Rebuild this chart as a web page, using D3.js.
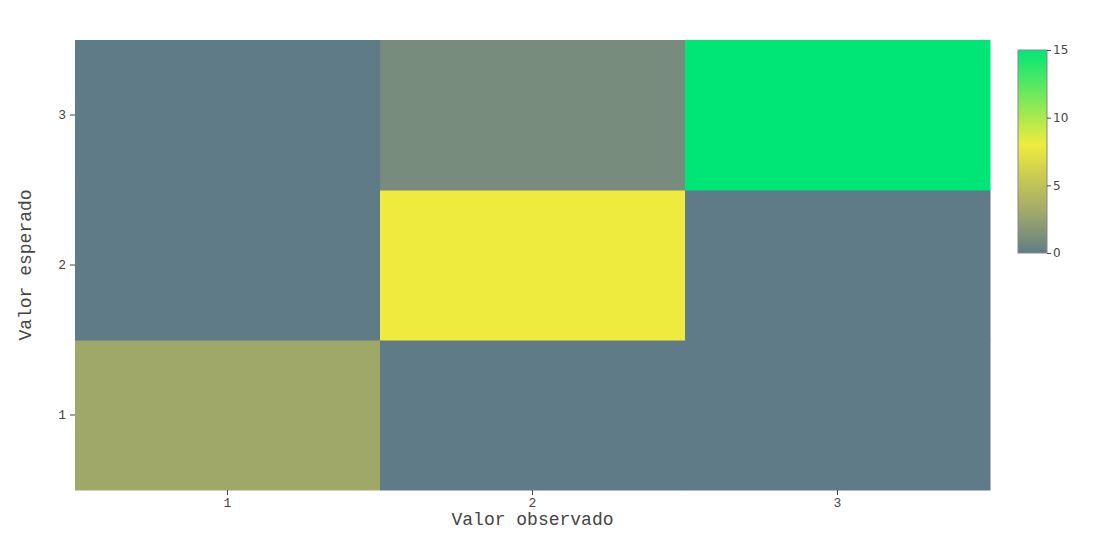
<!DOCTYPE html>
<html>
<head>
<meta charset="utf-8">
<script src="https://cdn.jsdelivr.net/npm/d3@7"></script>
<style>
  body { margin: 0; background: #fff; }
  .tick text { fill: #444; }
</style>
</head>
<body>
<script>
// confusion matrix: observado (x) vs esperado (y)
const observed = [1, 2, 3];
const expected = [1, 2, 3];
// counts[row = esperado][col = observado]
const counts = [
  [3, 0, 0],
  [0, 8, 0],
  [0, 1, 15]
];
const colorStops = [0, 1, 3, 8, 15];
const colorRange = ["#607b88", "#778c7d", "#a0a869", "#eeeb3e", "#00e676"];
const barTicks = [0, 5, 10, 15];

const mono = "'Courier New', Courier, 'Nimbus Mono PS', FreeMono, 'Liberation Mono', monospace";

init();

function init() {
  let width = 1105, height = 543,
      m = {l: 75, r: 115, t: 40, b: 53};

  let svg = d3.select("body").append("svg")
              .attr("width", width)
              .attr("height", height);

  let x = d3.scaleBand().domain(observed).range([m.l, width - m.r]).padding(0);
  let y = d3.scaleBand().domain(expected).range([height - m.b, m.t]).padding(0);
  let color = d3.scaleLinear().domain(colorStops).range(colorRange);

  let cells = [];
  counts.forEach((row, i) => {
    row.forEach((v, j) => cells.push({obs: observed[j], exp: expected[i], v: v}));
  });

  svg.append("g").selectAll("rect")
     .data(cells)
     .join("rect")
     .attr("x", d => x(d.obs))
     .attr("y", d => y(d.exp))
     .attr("width", x.bandwidth() + 0.5)
     .attr("height", y.bandwidth() + 0.5)
     .attr("fill", d => color(d.v));

  // axes
  let xAxis = svg.append("g")
     .attr("transform", `translate(0,${height - m.b})`)
     .call(d3.axisBottom(x).tickSize(5).tickPadding(3));
  let yAxis = svg.append("g")
     .attr("transform", `translate(${m.l},0)`)
     .call(d3.axisLeft(y).tickSize(5).tickPadding(4));
  [xAxis, yAxis].forEach(a => {
    a.select(".domain").remove();
    a.selectAll(".tick line").attr("stroke", "#444");
    a.selectAll(".tick text")
     .style("font-family", mono)
     .style("font-size", "13px");
  });

  svg.append("text")
     .attr("x", (m.l + width - m.r) / 2)
     .attr("y", 525)
     .attr("text-anchor", "middle")
     .style("font-family", mono)
     .style("font-size", "18px")
     .attr("fill", "#444")
     .text("Valor observado");

  svg.append("text")
     .attr("transform", `translate(31,${(m.t + height - m.b) / 2}) rotate(-90)`)
     .attr("text-anchor", "middle")
     .style("font-family", mono)
     .style("font-size", "18px")
     .attr("fill", "#444")
     .text("Valor esperado");

  // colorbar
  let cb = {x: 1018, y: 50, w: 29, h: 203};
  let cy = d3.scaleLinear().domain([0, 15]).range([cb.y + cb.h, cb.y]);

  let grad = svg.append("defs").append("linearGradient")
     .attr("id", "cbgrad")
     .attr("x1", 0).attr("y1", 1).attr("x2", 0).attr("y2", 0);
  colorStops.forEach((s, i) => {
    grad.append("stop")
        .attr("offset", s / 15)
        .attr("stop-color", colorRange[i]);
  });

  svg.append("rect")
     .attr("x", cb.x).attr("y", cb.y)
     .attr("width", cb.w).attr("height", cb.h)
     .attr("fill", "url(#cbgrad)")
     .attr("stroke", "#888")
     .attr("stroke-width", 1);

  let cAxis = svg.append("g")
     .attr("transform", `translate(${cb.x + cb.w},0)`)
     .call(d3.axisRight(cy).tickValues(barTicks).tickSize(4).tickPadding(2));
  cAxis.select(".domain").remove();
  cAxis.selectAll(".tick line").attr("stroke", "#444");
  cAxis.selectAll(".tick text")
       .style("font-family", "Verdana, 'DejaVu Sans', sans-serif")
       .style("font-size", "12px");
}
</script>
</body>
</html>
